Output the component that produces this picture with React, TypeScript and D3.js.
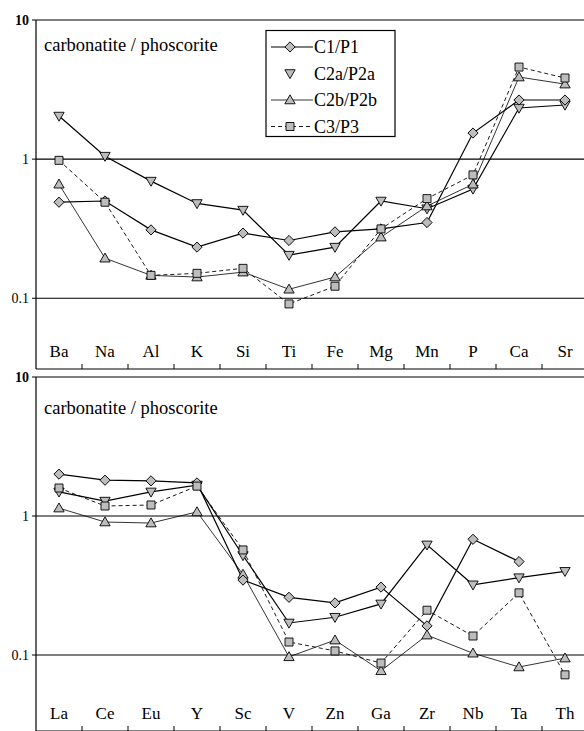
import React from "react";
import * as d3 from "d3";

const majorElems = ["Ba", "Na", "Al", "K", "Si", "Ti", "Fe", "Mg", "Mn", "P", "Ca", "Sr"];
const traceElems = ["La", "Ce", "Eu", "Y", "Sc", "V", "Zn", "Ga", "Zr", "Nb", "Ta", "Th"];

const seriesNames = ["C1/P1", "C2a/P2a", "C2b/P2b", "C3/P3"];

// top panel (major elements)
const majorC1 = [0.49, 0.5, 0.31, 0.233, 0.294, 0.26, 0.3, 0.315, 0.35, 1.54, 2.66, 2.66];
const majorC2a = [2.04, 1.05, 0.695, 0.48, 0.43, 0.204, 0.233, 0.5, 0.44, 0.61, 2.33, 2.45];
const majorC2b = [0.66, 0.194, 0.146, 0.142, 0.154, 0.116, 0.142, 0.275, 0.46, 0.66, 3.89, 3.46];
const majorC3 = [0.98, 0.49, 0.146, 0.151, 0.164, 0.091, 0.122, 0.315, 0.52, 0.77, 4.59, 3.83];

// bottom panel (trace elements)
const traceC1 = [2.0, 1.81, 1.79, 1.73, 0.346, 0.26, 0.237, 0.308, 0.162, 0.68, 0.47, null];
const traceC2a = [1.49, 1.28, 1.49, 1.67, 0.52, 0.17, 0.187, 0.233, 0.62, 0.32, 0.36, 0.4];
const traceC2b = [1.14, 0.905, 0.89, 1.07, 0.38, 0.097, 0.128, 0.077, 0.139, 0.103, 0.082, 0.095];
const traceC3 = [1.59, 1.18, 1.2, 1.64, 0.57, 0.124, 0.107, 0.0875, 0.21, 0.137, 0.28, 0.072];

const yTickValues = [10, 1, 0.1];
const yTickLabels = ["10", "1", "0.1"];
const panelLabel = "carbonatite / phoscorite";

const W = 584;
const H = 731;
const FONT = "Liberation Serif, DejaVu Serif, serif";
const FILL = "#bdbdbd";

type Style = { dash?: string; width: number; symbol: string; legendLine: boolean };
const styles: Style[] = [
  { width: 1.2, symbol: "diamond", legendLine: true },
  { width: 1.2, symbol: "down", legendLine: false },
  { width: 0.8, symbol: "up", legendLine: true },
  { width: 0.9, dash: "4,3", symbol: "square", legendLine: true },
];

function Marker({ x, y, kind }: { x: number; y: number; kind: string }) {
  let path = "";
  let transform = `translate(${x},${y})`;
  if (kind === "diamond") {
    path = d3.symbol().type(d3.symbolSquare).size(52)() as string;
    transform += " rotate(45)";
  } else if (kind === "square") {
    path = d3.symbol().type(d3.symbolSquare).size(64)() as string;
  } else if (kind === "up") {
    path = d3.symbol().type(d3.symbolTriangle).size(46)() as string;
    transform += " translate(0,0.8)";
  } else {
    path = d3.symbol().type(d3.symbolTriangle).size(46)() as string;
    transform += " rotate(180) translate(0,0.8)";
  }
  return <path d={path} transform={transform} fill={FILL} stroke="#000" strokeWidth={0.9} />;
}

function Panel({
  cats,
  data,
  top,
  bottom,
  yMin,
  legend,
  labelOffset,
}: {
  cats: string[];
  data: (number | null)[][];
  top: number;
  bottom: number;
  yMin: number;
  legend: boolean;
  labelOffset: number;
}) {
  const left = 36;
  const right = 588;
  const x = d3.scaleBand<string>().domain(cats).range([left, right]);
  const y = d3.scaleLog().domain([yMin, 10]).range([bottom, top]);
  const cx = (c: string) => (x(c) as number) + x.bandwidth() / 2;

  const line = d3
    .line<[string, number | null]>()
    .defined((d) => d[1] != null)
    .x((d) => cx(d[0]))
    .y((d) => y(d[1] as number));

  const order = [1, 2, 0, 3];

  return (
    <g>
      <line x1={left} x2={W} y1={top} y2={top} stroke="#000" strokeWidth={1.2} />
      <line x1={left} x2={W} y1={bottom} y2={bottom} stroke="#000" strokeWidth={1.2} />
      <line x1={left} x2={left} y1={top} y2={bottom} stroke="#000" strokeWidth={1.2} />
      {yTickValues.slice(1).map((v) => (
        <line key={v} x1={left} x2={W} y1={y(v)} y2={y(v)} stroke="#000" strokeWidth={1.2} />
      ))}
      {yTickValues.map((v, i) => (
        <g key={v}>
          <line x1={left - 4} x2={left} y1={y(v)} y2={y(v)} stroke="#000" strokeWidth={1} />
          <text
            x={left - 7}
            y={y(v)}
            dy="0.35em"
            textAnchor="end"
            fontFamily={FONT}
            fontSize={14}
            fontWeight={i === 0 ? "bold" : "normal"}
          >
            {yTickLabels[i]}
          </text>
        </g>
      ))}
      {cats.slice(1).map((c) => (
        <line
          key={c}
          x1={x(c) as number}
          x2={x(c) as number}
          y1={bottom}
          y2={bottom - 5}
          stroke="#000"
          strokeWidth={1}
        />
      ))}
      {cats.map((c) => (
        <text
          key={c}
          x={cx(c)}
          y={bottom - 12}
          textAnchor="middle"
          fontFamily={FONT}
          fontSize={17}
        >
          {c}
        </text>
      ))}
      <text x={left + 8} y={top + labelOffset} fontFamily={FONT} fontSize={18.5}>
        {panelLabel}
      </text>
      {data.map((s, i) => (
        <path
          key={i}
          d={line(cats.map((c, j) => [c, s[j]] as [string, number | null])) as string}
          fill="none"
          stroke="#000"
          strokeWidth={styles[i].width}
          strokeDasharray={styles[i].dash}
        />
      ))}
      {order.map((i) =>
        data[i].map((v, j) =>
          v == null ? null : <Marker key={`${i}-${j}`} x={cx(cats[j])} y={y(v)} kind={styles[i].symbol} />
        )
      )}
      {legend && (
        <g>
          <rect x={266} y={30.5} width={129} height={106} fill="#fff" stroke="#000" strokeWidth={1.2} />
          {seriesNames.map((n, i) => {
            const ly = 47 + i * 26.5;
            return (
              <g key={n}>
                {styles[i].legendLine && (
                  <line
                    x1={271}
                    x2={313}
                    y1={ly}
                    y2={ly}
                    stroke="#000"
                    strokeWidth={styles[i].width}
                    strokeDasharray={styles[i].dash}
                  />
                )}
                <Marker x={290} y={ly} kind={styles[i].symbol} />
                <text x={314} y={ly} dy="0.35em" fontFamily={FONT} fontSize={18}>
                  {n}
                </text>
              </g>
            );
          })}
        </g>
      )}
    </g>
  );
}

export default function App() {
  return (
    <svg
      width={W}
      height={H}
      style={{ position: "absolute", left: 0, top: 0, background: "#fff" }}
    >
      <rect width={W} height={H} fill="#fff" />
      <Panel
        cats={majorElems}
        data={[majorC1, majorC2a, majorC2b, majorC3]}
        top={20}
        bottom={369}
        yMin={0.031}
        legend={true}
        labelOffset={31}
      />
      <Panel
        cats={traceElems}
        data={[traceC1, traceC2a, traceC2b, traceC3]}
        top={377}
        bottom={731}
        yMin={0.0284}
        legend={false}
        labelOffset={37}
      />
    </svg>
  );
}
